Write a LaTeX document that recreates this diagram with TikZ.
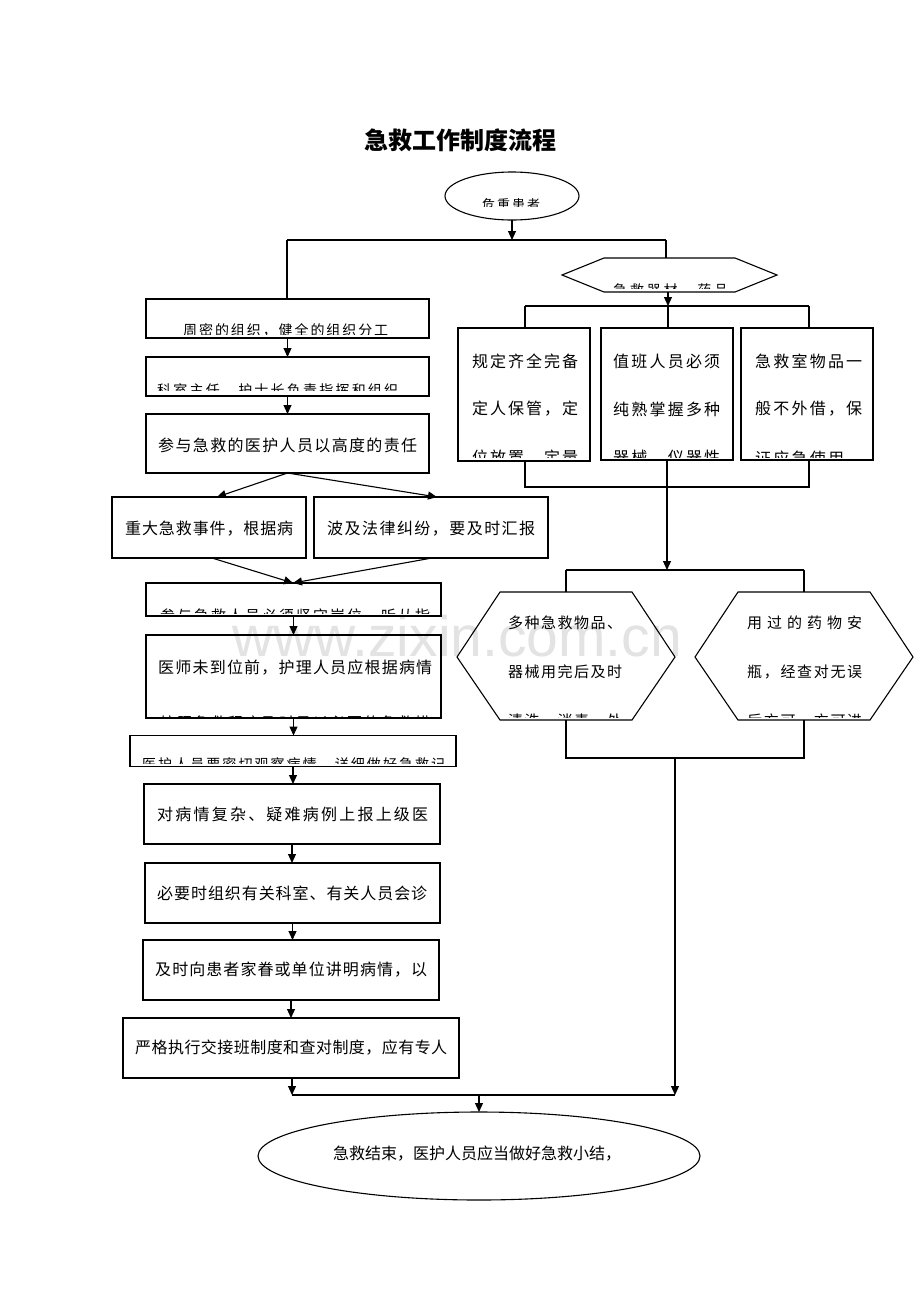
\documentclass[tikz,border=0pt]{standalone}
\usepackage{fontspec}
\setmainfont{Noto Sans CJK SC}
\setsansfont{Liberation Sans}
\usetikzlibrary{arrows.meta,shapes.geometric}
\def\spreadrest#1{\ifx#1\relax\else\hfil#1\expandafter\spreadrest\fi}
\def\spreadfirst#1{#1\spreadrest}
\newcommand\spr[2]{\hbox to #1pt{\spreadfirst#2\relax}}
\tikzset{
  box/.style={draw, line width=1.1pt, inner sep=0pt, outer sep=0pt, rectangle},
  oval/.style={draw, line width=1.1pt, inner sep=0pt, outer sep=0pt, ellipse},
  ln/.style={line width=1.1pt},
  arr/.style={line width=1.1pt, -{Triangle[length=9pt,width=8pt]}},
  txt/.style={inner sep=0pt, anchor=west, font=\fontsize{16}{16}\selectfont},
  stxt/.style={inner sep=0pt, anchor=west, font=\fontsize{14}{14}\selectfont},
  mtxt/.style={inner sep=0pt, anchor=west, font=\fontsize{15}{15}\selectfont}
}
\begin{document}
\begin{tikzpicture}[x=1pt,y=-1pt]
\useasboundingbox (0,0) rectangle (920,1302);
\fill[white] (0,0) rectangle (920,1302);
% watermark
\node[inner sep=0pt, anchor=base west, text=black!11, font=\sffamily\fontsize{57}{57}\selectfont] (wm) at (232,656) {www.zixin.com.cn};
% title
\node[inner sep=0pt, font=\fontsize{24}{24}\selectfont\bfseries] (title) at (460,140) {急救工作制度流程};
% top ellipse
\node[oval, minimum width=134pt, minimum height=48pt] (e1) at (512,196) {};
\begin{scope}\clip (470,190) rectangle (560,206.5);
\node[stxt, font=\fontsize{13}{13}\selectfont] (te1) at (482,204.5) {\spr{58}{危重患者}};
\end{scope}
% hexagon h1
\draw[ln] (562,275) -- (604,258) -- (735,258) -- (777,275) -- (735,292) -- (604,292) -- cycle;
\coordinate (h1t) at (666,258);
\coordinate (h1b) at (668,292);
\begin{scope}\clip (600,270) rectangle (740,288.5);
\node[stxt] (th1) at (613,290) {\spr{115}{急救器材，药品}};
\end{scope}
% left column boxes
\node[box, minimum width=283pt, minimum height=39pt] (b1) at (287.5,318.5) {};
\node[box, minimum width=283pt, minimum height=39pt] (b2) at (287.5,376.5) {};
\node[box, minimum width=283pt, minimum height=59pt] (b3) at (287.5,443.5) {};
\node[box, minimum width=194pt, minimum height=61pt] (b4) at (209,527.5) {};
\node[box, minimum width=234pt, minimum height=61pt] (b5) at (431,527.5) {};
\node[box, minimum width=295pt, minimum height=33pt] (b6) at (293.5,599.5) {};
\node[box, minimum width=295pt, minimum height=83pt] (b7) at (293.5,676.5) {};
\node[box, minimum width=326pt, minimum height=31pt] (b8) at (293,751) {};
\node[box, minimum width=296pt, minimum height=60pt] (b9) at (292,814) {};
\node[box, minimum width=295pt, minimum height=60pt] (b10) at (292.5,893) {};
\node[box, minimum width=296pt, minimum height=60pt] (b11) at (291,970) {};
\node[box, minimum width=336pt, minimum height=60pt] (b12) at (291,1048) {};
% left texts
\begin{scope}\clip (150,310) rectangle (425,334);
\node[stxt] (tb1) at (183,330) {\spr{205}{周密的组织，健全的组织分工}};
\end{scope}
\begin{scope}\clip (150,370) rectangle (425,390.5);
\node[stxt] (tb2) at (157,390) {\spr{241}{科室主任，护士长负责指挥和组织}};
\end{scope}
\node[txt] (tb3) at (158,445) {\spr{259}{参与急救的医护人员以高度的责任}};
\node[txt] (tb4) at (125,529) {\spr{168}{重大急救事件，根据病}};
\node[txt] (tb5) at (327,529) {\spr{208}{波及法律纠纷，要及时汇报}};
\begin{scope}\clip (150,590) rectangle (438,613.5);
\node[mtxt] (tb6) at (160,615.5) {\spr{270}{参与急救人员必须坚守岗位，听从指}};
\end{scope}
\node[txt] (tb7) at (158,668) {\spr{274}{医师未到位前，护理人员应根据病情}};
\begin{scope}\clip (150,700) rectangle (438,718.5);
\node[mtxt] (tb7b) at (160,722.5) {\spr{270}{按照急救程序及时予以必要的急救措}};
\end{scope}
\begin{scope}\clip (133,740) rectangle (452,763);
\node[stxt] (tb8) at (142,764) {\spr{303}{医护人员要密切观察病情，详细做好急救记}};
\end{scope}
\node[txt] (tb9) at (157,814) {\spr{271}{对病情复杂、疑难病例上报上级医}};
\node[txt] (tb10) at (157,893) {\spr{270}{必要时组织有关科室、有关人员会诊}};
\node[txt] (tb11) at (155,970) {\spr{272}{及时向患者家眷或单位讲明病情，以}};
\node[txt] (tb12) at (135,1048) {\spr{312}{严格执行交接班制度和查对制度，应有专人}};
% right boxes
\node[box, minimum width=132pt, minimum height=133pt] (rA) at (524,394.5) {};
\node[box, minimum width=132pt, minimum height=132pt] (rB) at (667,394) {};
\node[box, minimum width=132pt, minimum height=132pt] (rC) at (807,394) {};
\node[txt] (tA1) at (472,361) {\spr{106}{规定齐全完备}};
\node[txt] (tA2) at (472,409) {\spr{106}{定人保管，定}};
\node[txt] (tB1) at (613,361) {\spr{107}{值班人员必须}};
\node[txt] (tB2) at (613,409) {\spr{107}{纯熟掌握多种}};
\node[txt] (tC1) at (755,361) {\spr{107}{急救室物品一}};
\node[txt] (tC2) at (755,409) {\spr{107}{般不外借，保}};
\begin{scope}\clip (460,440) rectangle (870,457);
\node[txt] (tA3) at (472,458) {\spr{106}{位放置，定量}};
\node[txt] (tB3) at (613,458) {\spr{107}{器械，仪器性}};
\node[txt] (tC3) at (755,458) {\spr{89}{证应急使用}};
\end{scope}
% hexagons h2, h3
\draw[ln] (457,657) -- (500,592) -- (632,592) -- (675,657) -- (632,720) -- (500,720) -- cycle;
\draw[ln] (695,657) -- (738,592) -- (870,592) -- (913,657) -- (870,720) -- (738,720) -- cycle;
\coordinate (h2t) at (566,592);
\coordinate (h2b) at (566,720);
\coordinate (h3t) at (804,592);
\coordinate (h3b) at (804,720);
\node[mtxt] (th2a) at (508,623) {\spr{114}{多种急救物品、}};
\node[mtxt] (th2b) at (508,672) {\spr{114}{器械用完后及时}};
\node[mtxt] (th3a) at (747,623) {\spr{115}{用过的药物安}};
\node[mtxt] (th3b) at (747,672) {\spr{115}{瓶，经查对无误}};
\begin{scope}\clip (490,700) rectangle (880,717);
\node[mtxt] (th2c) at (508,721) {\spr{114}{清洗，消毒，处}};
\node[mtxt] (th3c) at (747,721) {\spr{115}{后方可，方可进}};
\end{scope}
% final ellipse
\node[oval, minimum width=442pt, minimum height=88pt] (e2) at (479,1156) {};
\node[txt] (te2) at (333,1154) {\spr{287}{急救结束，医护人员应当做好急救小结，}};
% connectors top
\coordinate (j1) at (512,240);
\coordinate (jl) at (287,240);
\coordinate (jr) at (666,240);
\draw[arr] (e1.south) -- (j1);
\draw[ln] (jl) -- (jr);
\draw[ln] (jl) -- (b1.north -| jl);
\draw[ln] (jr) -- (h1t);
% right branch
\coordinate (k1) at (668,306);
\coordinate (k1l) at (525,306);
\coordinate (k1r) at (809,306);
\draw[arr] (h1b) -- (k1);
\draw[ln] (k1l) -- (k1r);
\draw[ln] (k1l) -- (k1l |- rA.north);
\draw[ln] (k1) -- (k1 |- rB.north);
\draw[ln] (k1r) -- (k1r |- rC.north);
\coordinate (m1) at (667,487);
\coordinate (m1l) at (525,487);
\coordinate (m1r) at (809,487);
\draw[ln] (m1l |- rA.south) -- (m1l) -- (m1r) -- (m1r |- rC.south);
\draw[ln] (m1 |- rB.south) -- (m1);
\coordinate (n1) at (667,570);
\coordinate (n1l) at (566,570);
\coordinate (n1r) at (804,570);
\draw[arr] (m1) -- (n1);
\draw[ln] (n1l) -- (n1r);
\draw[ln] (n1l) -- (h2t);
\draw[ln] (n1r) -- (h3t);
\coordinate (p1) at (675,758);
\coordinate (p1l) at (566,758);
\coordinate (p1r) at (804,758);
\draw[ln] (h2b) -- (p1l) -- (p1r) -- (h3b);
\coordinate (q1) at (675,1095);
\coordinate (q1l) at (292,1095);
\coordinate (q1m) at (479,1095);
\draw[arr] (p1) -- (q1);
% left chain
\draw[arr] (b1.south) -- (b2.north);
\draw[arr] (b2.south) -- (b3.north);
\coordinate (a4) at (217,497);
\coordinate (a5) at (437,497);
\draw[arr] (b3.south) -- (a4);
\draw[arr] (b3.south) -- (a5);
\coordinate (s4) at (212,558);
\coordinate (s5) at (432,558);
\coordinate (a6) at (293,583);
\draw[arr] (s4) -- (a6);
\draw[arr] (s5) -- (a6);
\draw[arr] (b6.south) -- (b7.north);
\draw[arr] (b7.south) -- (b8.north -| b7.south);
\draw[arr] (b8.south) -- (b9.north -| b8.south);
\draw[arr] (b9.south) -- (b10.north -| b9.south);
\draw[arr] (b10.south) -- (b11.north -| b10.south);
\draw[arr] (b11.south) -- (b12.north -| b11.south);
\draw[arr] (b12.south -| q1l) -- (q1l);
\draw[ln] (q1l) -- (q1);
\draw[arr] (q1m) -- (e2.north);
\end{tikzpicture}
\end{document}
